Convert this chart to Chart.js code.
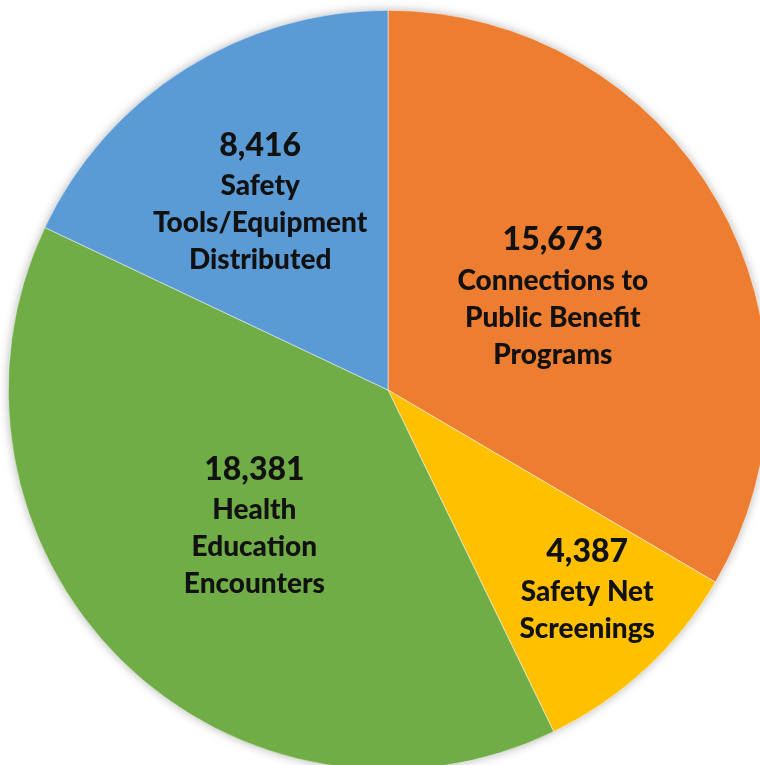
<!DOCTYPE html>
<html>
<head>
<meta charset="utf-8">
<script src="https://cdn.jsdelivr.net/npm/chart.js@4.4.1/dist/chart.umd.min.js"></script>
<style>
  html, body { margin: 0; padding: 0; background: #ffffff; overflow: hidden; width: 760px; height: 765px; }
  #wrap { position: absolute; left: 8px; top: 10px; width: 760px; height: 760px; }
  #c { filter: drop-shadow(0px 0px 5px rgba(0,0,0,0.28)); }
</style>
</head>
<body>
<div id="wrap"><canvas id="c"></canvas></div>
<script>
const categories = [
  ["Connections to", "Public Benefit", "Programs"],
  ["Safety Net", "Screenings"],
  ["Health", "Education", "Encounters"],
  ["Safety", "Tools/Equipment", "Distributed"]
];
const values = [15673, 4387, 18381, 8416];
const valueLabels = ["15,673", "4,387", "18,381", "8,416"];
const colors = ["#ED7D31", "#FFC000", "#70AD47", "#5B9BD5"];

const labelPlacement = [
  { r: 0.50, dAngle: 0 },
  { r: 0.74, dAngle: -2.4 },
  { r: 0.50, dAngle: 0 },
  { r: 0.60, dAngle: -1.8 }
];

const sliceLabels = {
  id: 'sliceLabels',
  afterDatasetsDraw(chart) {
    const ctx = chart.ctx;
    const meta = chart.getDatasetMeta(0);
    meta.data.forEach((arc, i) => {
      const p = arc.getProps(['x', 'y', 'startAngle', 'endAngle', 'outerRadius'], true);
      const mid = (p.startAngle + p.endAngle) / 2 + labelPlacement[i].dAngle * Math.PI / 180;
      const rr = p.outerRadius * labelPlacement[i].r;
      const cx = p.x + Math.cos(mid) * rr;
      const cy = p.y + Math.sin(mid) * rr;
      const lines = [{ t: valueLabels[i], f: '900 32px Lato', h: 44 }]
        .concat(categories[i].map(t => ({ t, f: '900 28px Lato', h: 37 })));
      const total = lines.reduce((s, l) => s + l.h, 0);
      let y = cy - total / 2;
      ctx.save();
      ctx.fillStyle = '#111111';
      ctx.textAlign = 'center';
      ctx.textBaseline = 'middle';
      lines.forEach(l => {
        ctx.font = l.f;
        ctx.fillText(l.t, cx, y + l.h / 2);
        y += l.h;
      });
      ctx.restore();
    });
  }
};

new Chart(document.getElementById('c'), {
  type: 'pie',
  data: {
    labels: categories.map(c => c.join(' ')),
    datasets: [{
      data: values,
      backgroundColor: colors,
      borderColor: '#ffffff',
      borderWidth: 0.5
    }]
  },
  options: {
    responsive: true,
    maintainAspectRatio: false,
    animation: false,
    layout: { padding: 0 },
    plugins: { legend: { display: false }, tooltip: { enabled: false } }
  },
  plugins: [sliceLabels]
});
</script>
</body>
</html>
